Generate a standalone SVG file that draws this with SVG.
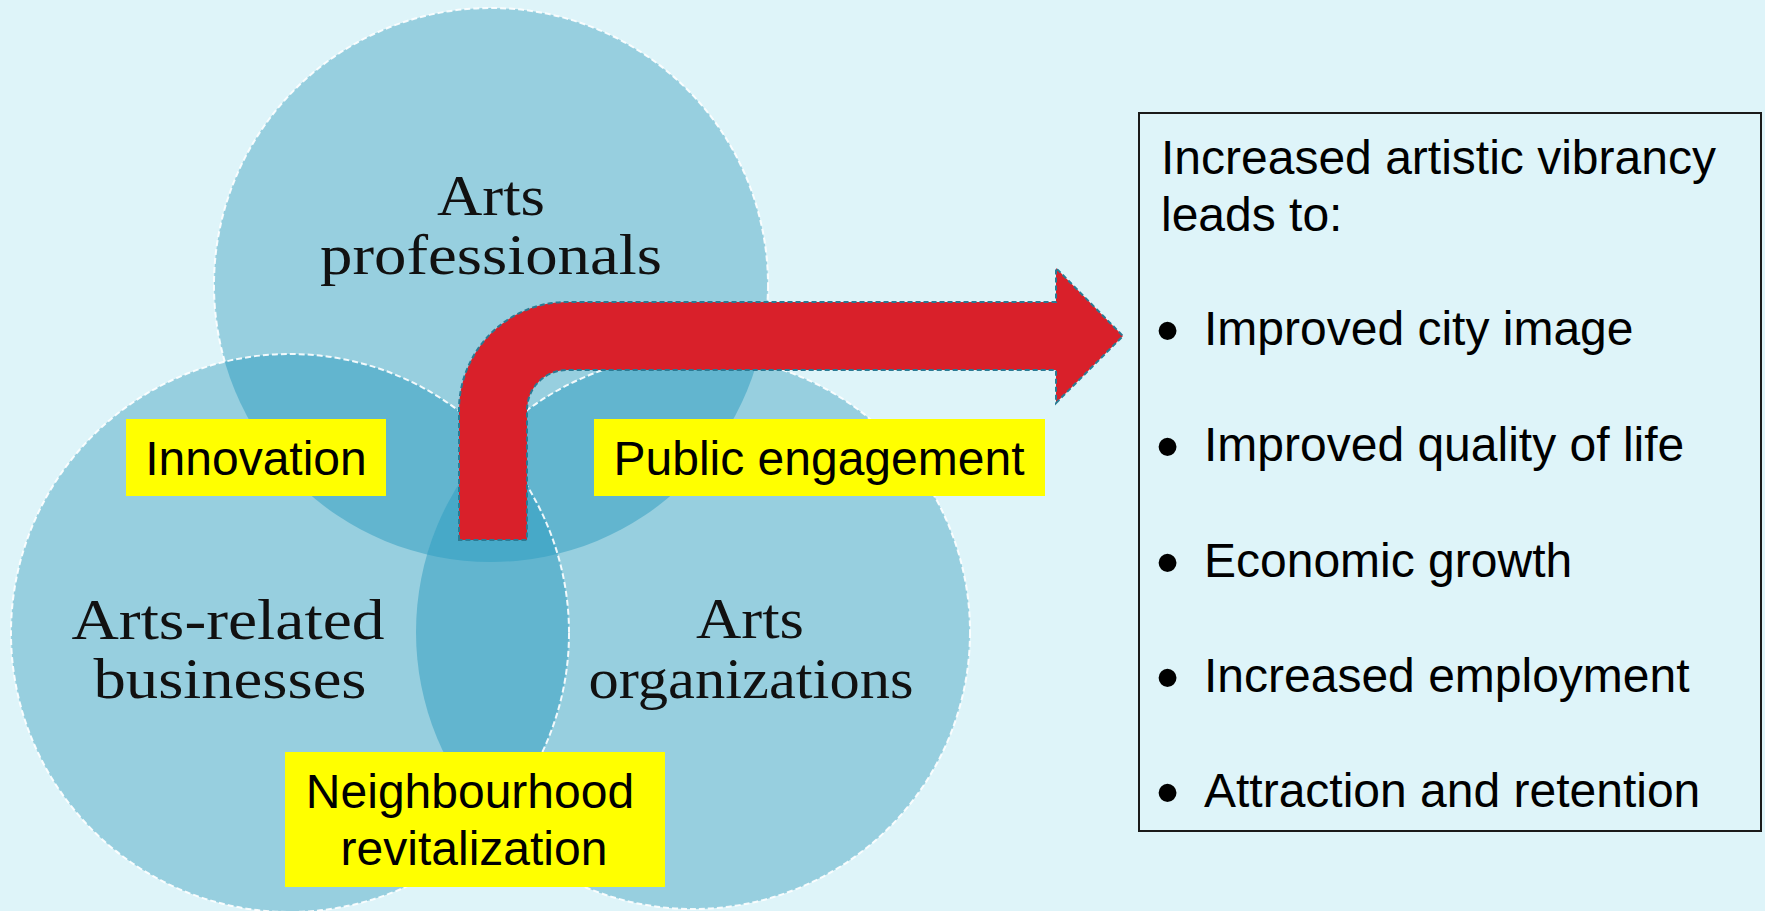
<svg xmlns="http://www.w3.org/2000/svg" xmlns:xlink="http://www.w3.org/1999/xlink" width="1765" height="911" viewBox="0 0 1765 911">
  <style>
    .bg { fill: #DEF4F9; }
    .c1 { fill: #97CFDF; }
    .c2 { fill: #62B5CF; }
    .c3 { fill: #47A9C8; }
    .outline { fill: none; stroke: #FFFFFF; stroke-width: 2; stroke-dasharray: 6 3; opacity: 0.9; }
    .serif { font-family: "Liberation Serif", "Times New Roman", serif; font-size: 57px; fill: #111; text-anchor: middle; }
    .sans { font-family: "Liberation Sans", Arial, sans-serif; font-size: 48px; fill: #000; }
    .bullet { font-family: "Liberation Sans", Arial, sans-serif; font-size: 66px; fill: #000; }
    .mid { text-anchor: middle; }
    .ybox { fill: #FFFF00; }
    .arrow { fill: #D9202A; stroke: #2B7A93; stroke-width: 2; stroke-dasharray: 5 3; }
    .rbox { fill: none; stroke: #1A1A1A; stroke-width: 2; }
  </style>
  <defs>
    <circle id="T" cx="491" cy="285" r="277"/>
    <circle id="L" cx="290" cy="633" r="279"/>
    <circle id="R" cx="693" cy="632" r="277"/>
    <clipPath id="clipT"><use xlink:href="#T"/></clipPath>
    <clipPath id="clipL"><use xlink:href="#L"/></clipPath>
    <mask id="maskT">
      <rect x="0" y="0" width="1765" height="911" fill="#fff"/>
      <use xlink:href="#L" fill="#000"/>
      <use xlink:href="#R" fill="#000"/>
    </mask>
    <mask id="maskR">
      <rect x="0" y="0" width="1765" height="911" fill="#fff"/>
      <use xlink:href="#L" fill="#000"/>
    </mask>
  </defs>

  <rect class="bg" x="0" y="0" width="1765" height="911"/>

  <g id="node-arts-professionals">
    <use xlink:href="#T" class="c1"/>
  </g>
  <g id="node-arts-organizations">
    <use xlink:href="#R" class="c1"/>
  </g>
  <g id="node-arts-related-businesses">
    <use xlink:href="#L" class="c1"/>
  </g>

  <g id="overlaps">
    <use xlink:href="#L" class="c2" clip-path="url(#clipT)"/>
    <use xlink:href="#R" class="c2" clip-path="url(#clipT)"/>
    <use xlink:href="#R" class="c2" clip-path="url(#clipL)"/>
    <g clip-path="url(#clipT)">
      <use xlink:href="#R" class="c3" clip-path="url(#clipL)"/>
    </g>
  </g>

  <g id="outlines">
    <use xlink:href="#T" class="outline" mask="url(#maskT)"/>
    <use xlink:href="#R" class="outline" mask="url(#maskR)"/>
    <use xlink:href="#L" class="outline"/>
  </g>

  <g id="labels-circles">
    <text class="serif" x="491" y="215" textLength="108" lengthAdjust="spacingAndGlyphs">Arts</text>
    <text class="serif" x="491" y="274" textLength="342" lengthAdjust="spacingAndGlyphs">professionals</text>
    <text class="serif" x="228" y="639" textLength="313" lengthAdjust="spacingAndGlyphs">Arts-related</text>
    <text class="serif" x="230" y="698" textLength="273" lengthAdjust="spacingAndGlyphs">businesses</text>
    <text class="serif" x="750" y="638" textLength="108" lengthAdjust="spacingAndGlyphs">Arts</text>
    <text class="serif" x="751" y="698" textLength="325" lengthAdjust="spacingAndGlyphs">organizations</text>
  </g>

  <g id="connectors">
    <path id="arrow-main" class="arrow" d="M 459 540 L 459 410 A 108 108 0 0 1 567 302 L 1056 302 L 1056 268 L 1123 336 L 1056 403 L 1056 370 L 567 370 A 40 40 0 0 0 527 410 L 527 540 Z"/>
  </g>

  <g id="node-innovation">
    <rect class="ybox" x="126" y="419" width="260" height="77"/>
    <text class="sans mid" x="256" y="475">Innovation</text>
  </g>
  <g id="node-public-engagement">
    <rect class="ybox" x="594" y="419" width="451" height="77"/>
    <text class="sans mid" x="819" y="475">Public engagement</text>
  </g>
  <g id="node-neighbourhood">
    <rect class="ybox" x="285" y="752" width="380" height="135"/>
    <text class="sans mid" x="470" y="808">Neighbourhood</text>
    <text class="sans mid" x="474" y="865">revitalization</text>
  </g>

  <g id="node-outcomes">
    <rect class="rbox" x="1139" y="113" width="622" height="718"/>
    <text class="sans" x="1161" y="174">Increased artistic vibrancy</text>
    <text class="sans" x="1161" y="231">leads to:</text>
    <text class="bullet" x="1156" y="353">•</text>
    <text class="sans" x="1204" y="345">Improved city image</text>
    <text class="bullet" x="1156" y="469">•</text>
    <text class="sans" x="1204" y="461">Improved quality of life</text>
    <text class="bullet" x="1156" y="585">•</text>
    <text class="sans" x="1204" y="577">Economic growth</text>
    <text class="bullet" x="1156" y="700">•</text>
    <text class="sans" x="1204" y="692">Increased employment</text>
    <text class="bullet" x="1156" y="815">•</text>
    <text class="sans" x="1204" y="807">Attraction and retention</text>
  </g>
</svg>
